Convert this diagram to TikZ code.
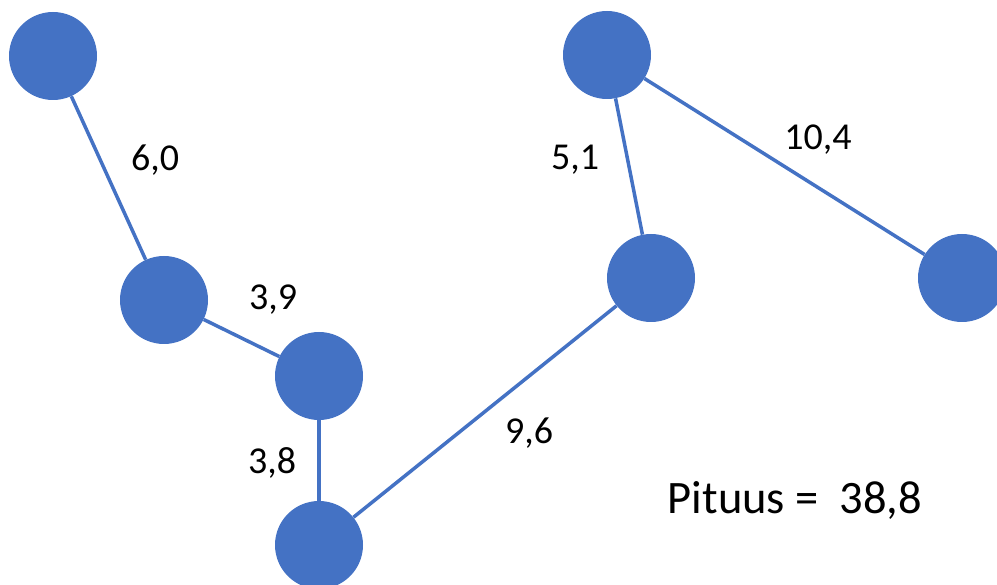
\documentclass[tikz,border=0pt]{standalone}
\usepackage{fontspec}
\setmainfont{Carlito}
\definecolor{nodeblue}{HTML}{4472C4}
\begin{document}
\begin{tikzpicture}[x=1pt,y=-1pt,
  vert/.style={circle,fill=nodeblue,draw=none,minimum size=88pt,inner sep=0pt},
  edge/.style={draw=nodeblue,line width=3.5pt},
  lbl/.style={font=\fontsize{38}{44}\selectfont,text=black},
  total/.style={font=\fontsize{46.5}{54}\selectfont,text=black}]
\useasboundingbox (0,0) rectangle (997,585);
\node[vert] (A) at (53,56) {};
\node[vert] (B) at (164,300) {};
\node[vert] (C) at (319,376) {};
\node[vert] (D) at (319,545) {};
\node[vert] (E) at (651,278) {};
\node[vert] (F) at (607,55) {};
\node[vert] (G) at (962,278) {};
\draw[edge] (A) -- (B);
\draw[edge] (B) -- (C);
\draw[edge] (C) -- (D);
\draw[edge] (D) -- (E);
\draw[edge] (E) -- (F);
\draw[edge] (F) -- (G);
\node[lbl] (l1) at (155,160) {6,0};
\node[lbl] (l2) at (273,300) {3,9};
\node[lbl] (l3) at (272,463) {3,8};
\node[lbl] (l4) at (529,433) {9,6};
\node[lbl] (l5) at (575,160) {5,1};
\node[lbl] (l6) at (818,140) {10,4};
\node[total] (t) at (795,500) {Pituus =\ \ 38,8};
\end{tikzpicture}
\end{document}
